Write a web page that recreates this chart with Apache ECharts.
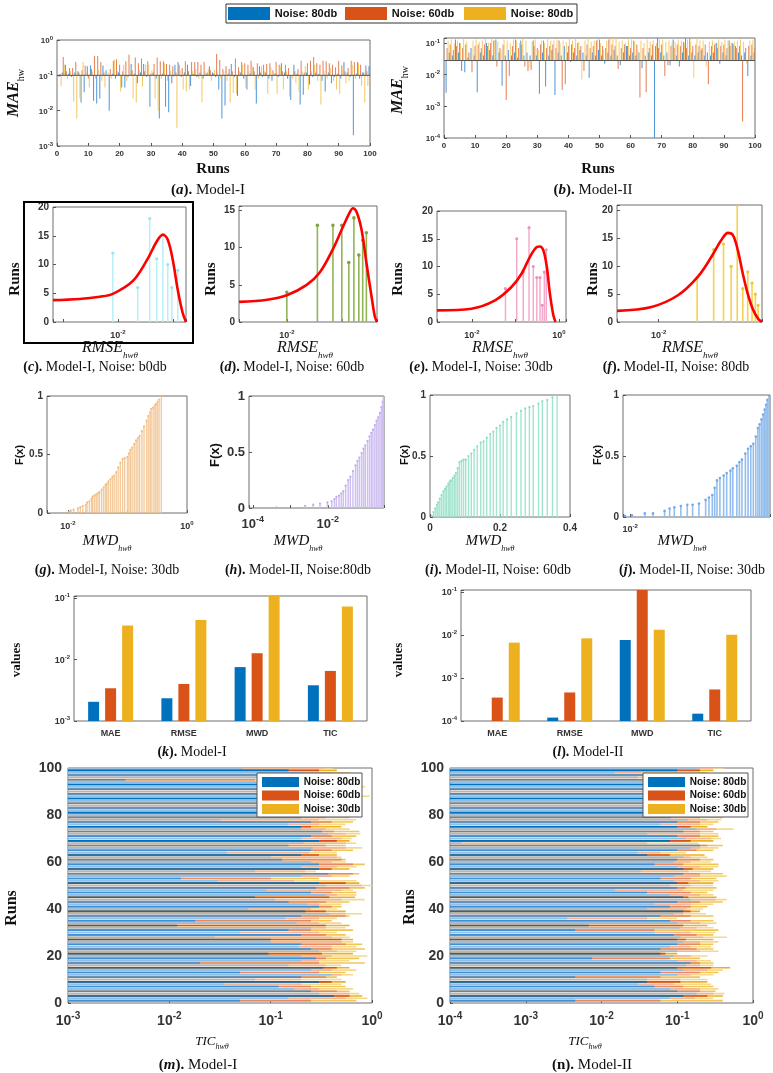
<!DOCTYPE html>
<html><head><meta charset="utf-8">
<script src="https://cdn.jsdelivr.net/npm/echarts@6/dist/echarts.min.js"></script>
<style>html,body{margin:0;padding:0;background:#fff}#c{width:773px;height:1073px}</style>
</head><body><div id="c"></div><script>
// ---------------- DATA ----------------
const legendTop = ['Noise: 80db', 'Noise: 60db', 'Noise: 80db'];
const legendBottom = ['Noise: 80db', 'Noise: 60db', 'Noise: 30db'];
const metrics = ['MAE', 'RMSE', 'MWD', 'TIC'];

// (a) Model-I MAE per run
const maeI_80 = [0.09,0.12,0.2,0.11,0.09,0.12,0.13,0.017,0.033,0.18,0.19,0.019,0.016,0.022,0.19,0.14,0.01,0.11,0.08,0.12,0.045,0.045,0.09,0.21,0.11,0.06,0.12,0.21,0.09,0.013,0.12,0.08,0.006,0.11,0.013,0.009,0.06,0.2,0.24,0.09,0.12,0.2,0.05,0.11,0.09,0.12,0.08,0.11,0.18,0.12,0.09,0.04,0.006,0.014,0.11,0.21,0.09,0.026,0.12,0.08,0.04,0.11,0.17,0.016,0.18,0.09,0.12,0.08,0.07,0.11,0.09,0.22,0.12,0.08,0.02,0.2,0.11,0.015,0.028,0.12,0.055,0.09,0.12,0.11,0.07,0.035,0.12,0.06,0.09,0.11,0.08,0.24,0.12,0.09,0.002,0.11,0.08,0.12,0.19,0.18];
const maeI_60 = [0.11,0.33,0.13,0.16,0.16,0.24,0.12,0.14,0.19,0.08,0.15,0.35,0.35,0.24,0.12,0.1,0.15,0.26,0.28,0.2,0.13,0.25,0.38,0.14,0.32,0.22,0.3,0.13,0.25,0.11,0.21,0.32,0.25,0.25,0.21,0.2,0.18,0.12,0.2,0.16,0.25,0.13,0.24,0.24,0.24,0.2,0.24,0.12,0.14,0.11,0.4,0.27,0.15,0.18,0.15,0.13,0.3,0.17,0.24,0.22,0.2,0.26,0.13,0.22,0.12,0.2,0.21,0.22,0.14,0.24,0.2,0.13,0.2,0.16,0.1,0.13,0.15,0.26,0.12,0.22,0.26,0.33,0.22,0.2,0.26,0.25,0.22,0.2,0.17,0.26,0.19,0.13,0.16,0.26,0.24,0.24,0.2,0.12,0.13,0.11];
const maeI_30 = [0.05,0.2,0.08,0.13,0.018,0.006,0.022,0.24,0.12,0.045,0.13,0.08,0.14,0.07,0.045,0.12,0.08,0.28,0.13,0.035,0.2,0.07,0.13,0.022,0.017,0.14,0.048,0.2,0.2,0.14,0.022,0.01,0.08,0.22,0.07,0.13,0.09,0.0033,0.14,0.04,0.035,0.04,0.13,0.15,0.08,0.017,0.13,0.15,0.07,0.14,0.12,0.08,0.13,0.07,0.017,0.032,0.03,0.13,0.2,0.045,0.13,0.18,0.04,0.08,0.18,0.13,0.03,0.17,0.12,0.03,0.18,0.04,0.13,0.025,0.08,0.06,0.035,0.13,0.18,0.04,0.13,0.2,0.07,0.015,0.13,0.08,0.16,0.07,0.04,0.03,0.14,0.06,0.07,0.2,0.08,0.22,0.05,0.017,0.05,0.04];
const baseI = 0.1;

// (b) Model-II MAE per run
const maeII_80 = [0.0027,0.05,0.04,0.13,0.05,0.013,0.012,0.035,0.07,0.04,0.0028,0.05,0.04,0.1,0.06,0.04,0.13,0.05,0.0045,0.04,0.06,0.04,0.05,0.035,0.12,0.04,0.05,0.04,0.12,0.04,0.0025,0.05,0.0042,0.04,0.06,0.0023,0.05,0.04,0.08,0.05,0.025,0.05,0.04,0.06,0.05,0.04,0.008,0.05,0.04,0.06,0.04,0.022,0.05,0.04,0.06,0.04,0.02,0.05,0.08,0.04,0.05,0.04,0.05,0.016,0.04,0.05,0.04,0.00008,0.15,0.05,0.04,0.05,0.02,0.13,0.04,0.018,0.05,0.14,0.04,0.05,0.04,0.05,0.06,0.04,0.05,0.04,0.05,0.1,0.022,0.05,0.04,0.12,0.1,0.08,0.05,0.04,0.05,0.009,0.04,0.05];
const maeII_60 = [0.07,0.09,0.06,0.08,0.1,0.07,0.09,0.05,0.012,0.08,0.09,0.07,0.09,0.08,0.1,0.12,0.018,0.07,0.09,0.0016,0.009,0.08,0.13,0.07,0.09,0.018,0.013,0.014,0.08,0.07,0.09,0.12,0.07,0.08,0.09,0.07,0.12,0.0033,0.005,0.08,0.09,0.07,0.1,0.08,0.013,0.09,0.07,0.08,0.12,0.13,0.08,0.07,0.13,0.09,0.08,0.015,0.07,0.09,0.08,0.07,0.12,0.09,0.0019,0.07,0.0028,0.07,0.09,0.08,0.07,0.09,0.009,0.02,0.08,0.07,0.09,0.08,0.11,0.07,0.14,0.08,0.09,0.08,0.07,0.09,0.005,0.08,0.09,0.07,0.08,0.09,0.07,0.08,0.09,0.07,0.08,0.00033,0.07,0.08,0.09,0.07];
const maeII_30 = [0.12,0.13,0.1,0.12,0.1,0.14,0.11,0.04,0.12,0.13,0.11,0.12,0.14,0.1,0.15,0.12,0.11,0.06,0.13,0.12,0.1,0.13,0.12,0.1,0.14,0.12,0.016,0.11,0.13,0.06,0.12,0.1,0.14,0.12,0.12,0.13,0.1,0.12,0.11,0.14,0.12,0.15,0.11,0.007,0.12,0.15,0.11,0.12,0.13,0.1,0.06,0.12,0.14,0.15,0.15,0.11,0.12,0.1,0.13,0.15,0.11,0.06,0.12,0.1,0.13,0.11,0.12,0.1,0.13,0.13,0.11,0.12,0.1,0.11,0.13,0.12,0.1,0.13,0.11,0.008,0.15,0.12,0.12,0.018,0.11,0.12,0.1,0.13,0.11,0.13,0.12,0.1,0.11,0.12,0.13,0.11,0.022,0.12,0.13,0.07];
const baseII = 0.028;

// (c)-(f) RMSE histograms (bin centre, runs) and fitted curves
const rmseC_x = [0.0081,0.023,0.038,0.051,0.066,0.081,0.096,0.123];
const rmseC_n = [12,6,18,11,15,10,6,9];
const fitC_x = [6.6e-4,2.0e-3,4.7e-3,8.1e-3,0.0186,0.034,0.051,0.066,0.081,0.1,0.123,0.151,0.174];
const fitC_y = [3.8,4.0,4.4,4.9,7.1,10.8,14,15.2,14.3,10.8,5.6,1.6,0];
const rmseD_x = [0.01,0.036,0.069,0.1,0.134,0.166,0.204,0.24,0.28];
const rmseD_n = [4,13,13,13,8,14,9,11,12];
const fitD_x = [1.35e-3,4.4e-3,0.01,0.023,0.04,0.069,0.105,0.141,0.158,0.186,0.229,0.28,0.35,0.4,0.437];
const fitD_y = [2.7,3.0,3.6,5.0,6.7,9.8,12.8,14.8,15.3,14.8,12.4,8,3.3,0.7,0];
const rmseE_x = [0.059,0.107,0.151,0.205,0.257,0.309,0.366,0.414,0.46,0.51];
const rmseE_n = [6,15,9,17,10,8,8,3,9,13];
const fitE_x = [1.585e-3,9.8e-3,0.034,0.081,0.138,0.214,0.309,0.363,0.437,0.525,0.617,0.741,0.83];
const fitE_y = [2.1,2.4,3.9,6.3,8.7,11.7,13.5,13.6,12.9,9.9,5.1,1.2,0];
const rmseF_x = [0.05,0.1,0.151,0.208,0.269,0.339,0.417,0.5,0.575,0.645];
const rmseF_n = [8,13,14,10,21,6,9,7,5,3];
const fitF_x = [1.74e-3,7.4e-3,0.0224,0.0513,0.0912,0.138,0.182,0.224,0.275,0.339,0.417,0.513,0.645,0.759];
const fitF_y = [2.0,2.7,4.8,8.1,11.7,14.7,16.0,15.6,12.9,8.7,5.1,2.4,0.6,0];

// (g)-(j) empirical CDF of MWD
const cdfG_x = [0.0105,0.0112,0.0125,0.0148,0.0162,0.0178,0.02,0.021,0.023,0.025,0.026,0.028,0.03,0.032,0.034,0.037,0.04,0.043,0.045,0.048,0.052,0.056,0.06,0.065,0.07,0.076,0.083,0.09,0.1,0.106,0.112,0.12,0.13,0.14,0.15,0.16,0.175,0.19,0.21,0.225,0.24,0.25,0.27,0.29,0.3,0.32,0.34,0.37];
const cdfG_F = [0.01,0.02,0.03,0.04,0.05,0.06,0.07,0.09,0.1,0.12,0.14,0.15,0.16,0.17,0.18,0.2,0.22,0.24,0.25,0.27,0.29,0.31,0.32,0.35,0.39,0.43,0.46,0.47,0.48,0.51,0.54,0.56,0.59,0.62,0.64,0.66,0.7,0.74,0.79,0.83,0.86,0.89,0.9,0.92,0.93,0.95,0.97,1.0];
const cdfH_x = [0.00043,0.0025,0.0041,0.0062,0.0098,0.0127,0.015,0.017,0.02,0.023,0.026,0.03,0.035,0.04,0.047,0.055,0.062,0.07,0.08,0.09,0.1,0.115,0.13,0.145,0.16,0.18,0.2,0.22,0.245,0.27,0.29,0.305];
const cdfH_F = [0.005,0.02,0.03,0.04,0.05,0.06,0.08,0.1,0.11,0.13,0.15,0.2,0.25,0.28,0.33,0.38,0.42,0.45,0.49,0.53,0.56,0.6,0.64,0.67,0.7,0.74,0.78,0.81,0.85,0.9,0.95,1.0];
const cdfI_x = [0.005,0.01,0.015,0.02,0.023,0.028,0.033,0.038,0.043,0.047,0.052,0.056,0.06,0.065,0.07,0.074,0.079,0.084,0.09,0.096,0.102,0.11,0.118,0.126,0.135,0.145,0.153,0.162,0.172,0.181,0.19,0.2,0.209,0.22,0.232,0.247,0.26,0.272,0.284,0.295,0.31,0.321,0.335,0.35,0.363];
const cdfI_F = [0.01,0.04,0.07,0.1,0.12,0.15,0.18,0.21,0.23,0.25,0.27,0.29,0.3,0.32,0.34,0.36,0.4,0.45,0.46,0.47,0.47,0.5,0.52,0.55,0.58,0.61,0.62,0.65,0.68,0.7,0.73,0.75,0.78,0.8,0.82,0.85,0.87,0.89,0.9,0.91,0.93,0.95,0.96,0.98,1.0];
const cdfJ_x = [0.0092,0.0103,0.0127,0.0145,0.0175,0.019,0.0205,0.0228,0.0253,0.0276,0.0306,0.0341,0.036,0.038,0.0395,0.041,0.043,0.0457,0.048,0.051,0.053,0.0566,0.059,0.0615,0.065,0.0679,0.071,0.074,0.077,0.0797,0.082,0.0845,0.0867,0.089,0.091,0.093,0.0954];
const cdfJ_F = [0.01,0.014,0.03,0.03,0.05,0.07,0.08,0.09,0.1,0.1,0.11,0.14,0.16,0.18,0.24,0.3,0.32,0.34,0.36,0.38,0.4,0.42,0.45,0.47,0.52,0.56,0.58,0.6,0.66,0.73,0.76,0.8,0.84,0.88,0.92,0.96,1.0];

// (k),(l) mean metrics
const statI_80 = [0.00205,0.00234,0.0075,0.0038];
const statI_60 = [0.0034,0.004,0.0126,0.0065];
const statI_30 = [0.0355,0.0437,0.15,0.072];
const statII_80 = [null,0.00012,0.0076,0.000148];
const statII_60 = [0.00035,0.00046,0.2,0.00054];
const statII_30 = [0.0066,0.0083,0.0132,0.01];

// (m),(n) TIC per run (cumulative bar ends as drawn)
const ticI_80 = [0.05,0.15,0.42,0.3,0.25,0.17,0.12,0.035,0.3,0.07,0.2,0.4,0.05,0.25,0.33,0.15,0.02,0.2,0.28,0.2,0.095,0.3,0.25,0.19,0.2,0.1,0.1,0.028,0.2,0.05,0.15,0.25,0.012,0.18,0.018,0.14,0.2,0.38,0.22,0.06,0.3,0.23,0.15,0.11,0.07,0.35,0.25,0.09,0.28,0.35,0.3,0.03,0.013,0.2,0.37,0.07,0.3,0.2,0.3,0.25,0.13,0.1,0.2,0.037,0.25,0.26,0.15,0.21,0.3,0.2,0.25,0.37,0.32,0.2,0.2,0.15,0.25,0.032,0.2,0.25,0.2,0.15,0.25,0.3,0.12,0.2,0.28,0.15,0.2,0.25,0.18,0.3,0.2,0.25,0.0037,0.2,0.075,0.22,0.15,0.052];
const ticI_60 = [0.25,0.55,0.6,0.6,0.45,0.3,0.25,0.2,0.4,0.2,0.35,0.5,0.3,0.4,0.45,0.35,0.3,0.3,0.35,0.4,0.32,0.45,0.4,0.4,0.55,0.5,0.5,0.4,0.35,0.3,0.25,0.35,0.35,0.3,0.25,0.3,0.55,0.55,0.35,0.25,0.4,0.3,0.35,0.5,0.38,0.45,0.4,0.5,0.6,0.8,0.55,0.17,0.1,0.4,0.65,0.22,0.4,0.45,0.65,0.4,0.5,0.45,0.3,0.24,0.4,0.55,0.35,0.55,0.45,0.5,0.4,0.55,0.42,0.35,0.25,0.3,0.4,0.3,0.35,0.4,0.35,0.3,0.4,0.45,0.3,0.4,0.45,0.3,0.35,0.4,0.3,0.5,0.35,0.4,0.07,0.3,0.25,0.4,0.3,0.34];
const ticI_30 = [0.7,0.9,0.8,0.75,0.6,0.65,0.55,0.5,0.55,0.5,0.45,0.65,0.55,0.7,0.6,0.5,0.85,0.6,0.75,0.9,0.65,0.7,0.85,0.7,0.8,0.65,0.65,0.6,0.55,0.45,0.65,0.55,0.6,0.5,0.4,0.45,0.6,0.8,0.55,0.45,0.5,0.5,0.6,0.85,0.68,0.7,0.7,0.65,0.85,1.0,0.75,0.7,0.3,0.6,0.75,0.28,0.6,0.7,0.85,0.55,0.55,0.5,0.45,0.45,0.65,0.8,0.55,0.7,0.6,0.63,0.7,0.77,0.75,0.6,0.5,0.55,0.65,0.7,0.6,0.55,0.6,0.5,0.65,0.7,0.55,0.6,0.75,0.95,0.6,0.65,0.55,0.85,0.6,0.65,0.3,0.5,0.45,0.6,0.45,0.41];
const ticII_80 = [0.0045,0.08,0.12,0.18,0.1,0.08,0.05,0.03,0.04,0.04,0.0045,0.1,0.06,0.12,0.1,0.13,0.15,0.1,0.0075,0.09,0.06,0.1,0.06,0.08,0.1,0.12,0.1,0.11,0.09,0.05,0.0045,0.11,0.0068,0.1,0.08,0.0035,0.06,0.09,0.12,0.04,0.08,0.05,0.1,0.15,0.12,0.08,0.04,0.015,0.1,0.08,0.1,0.09,0.06,0.09,0.12,0.033,0.12,0.1,0.05,0.09,0.1,0.12,0.04,0.03,0.1,0.15,0.2,0.00014,0.08,0.13,0.1,0.04,0.12,0.18,0.1,0.06,0.1,0.14,0.083,0.1,0.08,0.12,0.1,0.06,0.1,0.12,0.08,0.1,0.09,0.11,0.07,0.1,0.12,0.08,0.1,0.03,0.1,0.015,0.1,0.19];
const ticII_60 = [0.06,0.17,0.25,0.3,0.2,0.2,0.12,0.09,0.11,0.11,0.06,0.15,0.2,0.25,0.28,0.2,0.2,0.18,0.08,0.15,0.07,0.2,0.18,0.15,0.2,0.2,0.13,0.22,0.18,0.15,0.05,0.18,0.12,0.2,0.15,0.04,0.15,0.12,0.15,0.13,0.15,0.15,0.2,0.32,0.14,0.2,0.15,0.12,0.13,0.15,0.14,0.2,0.15,0.2,0.2,0.14,0.16,0.2,0.12,0.15,0.2,0.15,0.08,0.06,0.18,0.2,0.25,0.04,0.15,0.28,0.2,0.2,0.2,0.33,0.15,0.2,0.2,0.25,0.2,0.2,0.15,0.2,0.18,0.15,0.2,0.22,0.15,0.2,0.18,0.2,0.15,0.2,0.22,0.18,0.2,0.1,0.2,0.034,0.2,0.3];
const ticII_30 = [0.4,0.3,0.4,0.42,0.32,0.35,0.3,0.28,0.25,0.25,0.2,0.3,0.35,0.4,0.5,0.3,0.3,0.28,0.2,0.25,0.1,0.35,0.3,0.28,0.3,0.35,0.3,0.45,0.3,0.32,0.35,0.3,0.25,0.33,0.3,0.1,0.3,0.24,0.2,0.22,0.25,0.3,0.4,0.45,0.33,0.3,0.25,0.3,0.33,0.3,0.3,0.35,0.33,0.45,0.4,0.28,0.3,0.35,0.35,0.28,0.3,0.25,0.23,0.13,0.3,0.35,0.4,0.19,0.3,0.38,0.35,0.35,0.3,0.55,0.25,0.3,0.35,0.38,0.4,0.35,0.3,0.35,0.3,0.28,0.35,0.4,0.3,0.35,0.3,0.38,0.3,0.35,0.38,0.3,0.35,0.3,0.35,0.25,0.3,0.42];

// ---------------- STYLE / HELPERS ----------------
const SERIF = '"Liberation Serif","Times New Roman",serif';
const SANS = '"Liberation Sans",Arial,Helvetica,sans-serif';
const TC = '#333';
const C1 = '#0072BD', C2 = '#D95319', C3 = '#EDB120';
const grids = [], xAxes = [], yAxes = [], series = [], graphics = [];

function supRich(fs) {
  const s = Math.round(fs * 0.72);
  return {
    b: {fontSize: fs, fontWeight: 'bold', fontFamily: SANS, color: TC, verticalAlign: 'bottom'},
    s: {fontSize: s, fontWeight: 'bold', fontFamily: SANS, color: TC, verticalAlign: 'bottom', padding: [0, 0, Math.round(fs * 0.5), 0]}
  };
}
function logFmt(exps) {
  return function (v) {
    const e = Math.log10(v), r = Math.round(e);
    if (Math.abs(e - r) > 1e-6) return '';
    if (exps && exps.indexOf(r) < 0) return '';
    return '{b|10}{s|' + r + '}';
  };
}
function stepFmt(step) {
  return function (v) {
    const k = v / step;
    if (Math.abs(k - Math.round(k)) > 1e-6) return '';
    return String(+v.toFixed(3));
  };
}
function mkAxis(type, o) {
  const fs = o.fs || 9;
  const ax = {
    type: type, splitLine: {show: false}, axisLine: {show: false},
    axisTick: {show: o.tick !== false, inside: true, length: o.tl || 3, lineStyle: {color: '#555', width: 1}},
    axisLabel: {show: true, color: TC, fontSize: fs, fontWeight: 'bold', fontFamily: SANS,
      margin: o.margin == null ? 4 : o.margin, hideOverlap: false, showMinLabel: true, showMaxLabel: true}
  };
  if (o.min != null) ax.min = o.min;
  if (o.max != null) ax.max = o.max;
  if (o.interval != null) ax.interval = o.interval;
  if (type === 'log') {
    ax.logBase = 10;
    ax.axisLabel.formatter = logFmt(o.exps);
    ax.axisLabel.rich = supRich(fs);
  } else if (o.step) {
    ax.axisLabel.formatter = stepFmt(o.step);
  }
  if (o.data) { ax.data = o.data; ax.boundaryGap = true; }
  return ax;
}
function addPanel(r, xa, ya) {
  const i = grids.length;
  grids.push({left: r[0], top: r[2], width: r[1] - r[0], height: r[3] - r[2], show: true,
    borderColor: '#6e6e6e', borderWidth: 1, backgroundColor: '#fff', containLabel: false});
  xa.gridIndex = i; ya.gridIndex = i;
  xAxes.push(xa); yAxes.push(ya);
  return i;
}
// vertical thin bars from a baseline (a),(b)
function vbar(gi, vals, base, off, w, color, op) {
  return {type: 'custom', xAxisIndex: gi, yAxisIndex: gi, clip: true,
    data: vals.map((v, i) => [i + 1, v]),
    renderItem: function (p, api) {
      const x = api.value(0), v = api.value(1);
      if (!(v > 0)) return null;
      const a = api.coord([x, v]), b = api.coord([x, base]);
      return {type: 'rect', shape: {x: a[0] + off - w / 2, y: Math.min(a[1], b[1]), width: w, height: Math.abs(a[1] - b[1])},
        style: {fill: color, opacity: op}};
    }};
}
function hline(gi, x0, x1, y, color) {
  return {type: 'line', xAxisIndex: gi, yAxisIndex: gi, data: [[x0, y], [x1, y]], symbol: 'none',
    lineStyle: {color: color, width: 1}, silent: true, z: 5};
}
// stems (stem plots / histograms)
function stems(gi, xs, ys, color, mcolor, r, w, op) {
  return {type: 'custom', xAxisIndex: gi, yAxisIndex: gi, clip: true,
    data: xs.map((x, i) => [x, ys[i]]),
    renderItem: function (p, api) {
      const a = api.coord([api.value(0), api.value(1)]), b = api.coord([api.value(0), 0]);
      return {type: 'group', children: [
        {type: 'line', shape: {x1: a[0], y1: b[1], x2: a[0], y2: a[1]}, style: {stroke: color, lineWidth: w, opacity: op}},
        {type: 'circle', shape: {cx: a[0], cy: a[1], r: r}, style: {fill: mcolor, opacity: op}}
      ]};
    }};
}
function fitLine(gi, xs, ys) {
  return {type: 'line', xAxisIndex: gi, yAxisIndex: gi, smooth: 0.35, symbol: 'none',
    data: xs.map((x, i) => [x, ys[i]]), lineStyle: {color: '#ff0000', width: 2.6}, z: 6};
}
// grouped bars on category axis (k),(l)
function catBars(gi, vals, base, off, w, color) {
  return {type: 'custom', xAxisIndex: gi, yAxisIndex: gi, clip: true,
    data: vals.map((v, i) => [i, v]),
    renderItem: function (p, api) {
      const v = api.value(1);
      if (!(v > 0)) return null;
      const a = api.coord([api.value(0), v]), b = api.coord([api.value(0), base]);
      return {type: 'rect', shape: {x: a[0] + off - w / 2, y: a[1], width: w, height: b[1] - a[1]}, style: {fill: color}};
    }};
}
// horizontal bars (m),(n)
function hbars(gi, ends, base, dark, mid, light, h) {
  return {type: 'custom', xAxisIndex: gi, yAxisIndex: gi, clip: true,
    data: ends.map((v, i) => [v, i + 1]),
    renderItem: function (p, api) {
      const v = api.value(0), r = api.value(1);
      const a = api.coord([v, r]), b = api.coord([base, r]);
      const k = p.dataIndex;
      const col = (k % 6 === 2) ? dark : ((k % 2 === 0) ? mid : light);
      return {type: 'rect', shape: {x: b[0], y: a[1] - h / 2, width: a[0] - b[0], height: h}, style: {fill: col}};
    }};
}
function txt(x, y, text, rich, rot, z) {
  graphics.push({type: 'text', x: x, y: y, rotation: rot ? Math.PI / 2 : 0, z: z || 50,
    style: {text: text, rich: rich, align: 'center', verticalAlign: 'middle'}});
}
function capRich(fs) {
  return {
    p: {fontFamily: SERIF, fontWeight: 'bold', fontSize: fs, fill: '#111'},
    i: {fontFamily: SERIF, fontWeight: 'bold', fontStyle: 'italic', fontSize: fs, fill: '#111'},
    n: {fontFamily: SERIF, fontSize: fs, fill: '#111'}
  };
}
function cap(x, y, letter, rest, fs, italic) {
  txt(x, y, '{p|(}{' + (italic === false ? 'p' : 'i') + '|' + letter + '}{p|).}{n| ' + rest + '}', capRich(fs));
}
function subRich(fs, sfs, bold, subItalic) {
  return {
    a: {fontFamily: SERIF, fontStyle: 'italic', fontWeight: bold ? 'bold' : 'normal', fontSize: fs, fill: '#111', verticalAlign: 'bottom', padding: [0, 0, Math.round(fs * 0.25), 0]},
    s: {fontFamily: SERIF, fontStyle: subItalic ? 'italic' : 'normal', fontSize: sfs, fill: '#111', verticalAlign: 'bottom'}
  };
}
function plainRich(fs, fam, bold) {
  return {a: {fontFamily: fam, fontWeight: bold ? 'bold' : 'normal', fontSize: fs, fill: '#111'}};
}
function rect(x, y, w, h, fill, stroke, lw, z) {
  graphics.push({type: 'rect', z: z || 40, shape: {x: x, y: y, width: w, height: h},
    style: {fill: fill || 'none', stroke: stroke || null, lineWidth: lw || 0}});
}

// ---------------- PANELS ----------------
let g;
// (a)
g = addPanel([57, 370, 40, 146], mkAxis('value', {min: 0, max: 100, interval: 10, fs: 8, step: 10}), mkAxis('log', {min: 1e-3, max: 1, fs: 8}));
series.push(vbar(g, maeI_80, baseI, -1, 1, '#3a8ad0', 0.9));
series.push(vbar(g, maeI_60, baseI, 0, 1, '#e07040', 0.9));
series.push(vbar(g, maeI_30, baseI, 1, 1, '#f2c14f', 0.9));
series.push(hline(g, 0, 100, baseI, '#555'));
// (b)
g = addPanel([444, 755, 38, 138], mkAxis('value', {min: 0, max: 100, interval: 10, fs: 8, step: 10}), mkAxis('log', {min: 1e-4, max: 0.144, fs: 8}));
series.push(vbar(g, maeII_80, baseII, -1, 1, '#3a8ad0', 0.9));
series.push(vbar(g, maeII_60, baseII, 0, 1, '#e07040', 0.9));
series.push(vbar(g, maeII_30, baseII, 1, 1, '#f4c85e', 0.9));
series.push(hline(g, 0, 100, baseII, '#555'));

// (c)
g = addPanel([53, 186, 207, 322], mkAxis('log', {min: 6.6e-4, max: 0.174, exps: [-2], fs: 9, margin: 7}), mkAxis('value', {min: 0, max: 20, interval: 5, fs: 10, step: 5}));
series.push(stems(g, rmseC_x, rmseC_n, '#b5f1f6', '#96e6ee', 1.6, 1.5, 1));
series.push(fitLine(g, fitC_x, fitC_y));
// (d)
g = addPanel([239, 377, 206, 322], mkAxis('log', {min: 1.35e-3, max: 0.437, exps: [-2], fs: 9, margin: 7}), mkAxis('value', {min: 0, max: 15.6, interval: 5, fs: 10, step: 5}));
series.push(stems(g, rmseD_x, rmseD_n, '#92b457', '#7ea544', 1.8, 1.6, 1));
series.push(fitLine(g, fitD_x, fitD_y));
// (e)
g = addPanel([437, 566, 211, 322], mkAxis('log', {min: 1.585e-3, max: 1.445, exps: [-2, 0], fs: 9, margin: 7}), mkAxis('value', {min: 0, max: 20, interval: 5, fs: 10, step: 5}));
series.push(stems(g, rmseE_x, rmseE_n, '#f6aacb', '#ef90bb', 1.6, 1.5, 1));
series.push(fitLine(g, fitE_x, fitE_y));
// (f)
g = addPanel([617, 762, 205, 322], mkAxis('log', {min: 1.74e-3, max: 0.759, exps: [-2], fs: 9, margin: 7}), mkAxis('value', {min: 0, max: 21, interval: 5, fs: 10, step: 5}));
series.push(stems(g, rmseF_x, rmseF_n, '#f5d24e', '#efc532', 1.6, 1.6, 1));
series.push(fitLine(g, fitF_x, fitF_y));

// (g)
g = addPanel([47, 187, 396, 513], mkAxis('log', {min: 0.00447, max: 1, exps: [-2, 0], fs: 9, margin: 7}), mkAxis('value', {min: 0, max: 1, interval: 0.5, fs: 10, step: 0.5}));
series.push(stems(g, cdfG_x, cdfG_F, '#f3c592', '#f0b877', 1.1, 1.4, 0.9));
// (h)
g = addPanel([249, 384, 396, 508], mkAxis('log', {min: 7.94e-5, max: 0.316, exps: [-4, -2], fs: 13, margin: 7}), mkAxis('value', {min: 0, max: 1, interval: 0.5, fs: 13, step: 0.5}));
series.push(stems(g, cdfH_x, cdfH_F, '#cdbdf1', '#bba6ec', 1.1, 1.5, 0.95));
// (i)
g = addPanel([430, 570, 395, 517], mkAxis('value', {min: 0, max: 0.4, interval: 0.2, fs: 10, step: 0.2, margin: 6}), mkAxis('value', {min: 0, max: 1, interval: 0.5, fs: 10, step: 0.5}));
series.push(stems(g, cdfI_x, cdfI_F, '#9ee3cc', '#86dbbf', 1.1, 1.4, 0.95));
// (j)
g = addPanel([623, 770, 395, 517], mkAxis('log', {min: 0.00891, max: 0.097, exps: [-2], fs: 9, margin: 6}), mkAxis('value', {min: 0, max: 1, interval: 0.5, fs: 10, step: 0.5}));
series.push(stems(g, cdfJ_x, cdfJ_F, '#8ebaec', '#6fa6e6', 1.3, 1.6, 0.95));

// (k)
g = addPanel([74, 367, 596, 721], mkAxis('category', {data: metrics, fs: 9, tick: false, margin: 8}), mkAxis('log', {min: 1e-3, max: 0.107, fs: 9}));
series.push(catBars(g, statI_80, 1e-3, -17, 11, C1));
series.push(catBars(g, statI_60, 1e-3, 0, 11, C2));
series.push(catBars(g, statI_30, 1e-3, 17, 11, C3));
// (l)
g = addPanel([461, 751, 590, 721], mkAxis('category', {data: metrics, fs: 9, tick: false, margin: 8}), mkAxis('log', {min: 1e-4, max: 0.11, fs: 9}));
series.push(catBars(g, statII_80, 1e-4, -17, 11, C1));
series.push(catBars(g, statII_60, 1e-4, 0, 11, C2));
series.push(catBars(g, statII_30, 1e-4, 17, 11, C3));

// (m)
g = addPanel([68, 372, 768, 1003], mkAxis('log', {min: 1e-3, max: 1, fs: 14, margin: 8}), mkAxis('value', {min: 0, max: 100, interval: 20, fs: 14, step: 20, margin: 6}));
series.push(hbars(g, ticI_30, 1e-3, C3, '#f1c457', '#f6d88c', 1.6));
series.push(hbars(g, ticI_60, 1e-3, C2, '#e68a64', '#f1b59b', 1.6));
series.push(hbars(g, ticI_80, 1e-3, C1, '#3f8fd2', '#8dbfe9', 1.6));
// (n)
g = addPanel([450, 753, 768, 1003], mkAxis('log', {min: 1e-4, max: 1, fs: 14, margin: 8}), mkAxis('value', {min: 0, max: 100, interval: 20, fs: 14, step: 20, margin: 6}));
series.push(hbars(g, ticII_30, 1e-4, C3, '#f1c457', '#f6d88c', 1.6));
series.push(hbars(g, ticII_60, 1e-4, C2, '#e68a64', '#f1b59b', 1.6));
series.push(hbars(g, ticII_80, 1e-4, C1, '#3f8fd2', '#8dbfe9', 1.6));

// ---------------- TEXT / LEGENDS ----------------
// top legend
rect(226, 4, 351, 19, '#fff', '#333', 1);
[[228, C1], [345, C2], [464, C3]].forEach(function (s, k) {
  rect(s[0], 7, 42, 13, s[1], null, 0, 41);
  txt(s[0] + 47 + 31, 13.5, '{a|' + legendTop[k] + '}', plainRich(11, SANS, true), false, 42);
});
// (m),(n) legends
[[257, 262], [643, 648]].forEach(function (L) {
  rect(L[0], 773, 105, 44, '#fff', '#555', 1, 60);
  [C1, C2, C3].forEach(function (c, k) {
    rect(L[1], 777 + k * 13.5, 37, 10, c, null, 0, 61);
    txt(L[1] + 41 + 29, 782 + k * 13.5, '{a|' + legendBottom[k] + '}', plainRich(10, SANS, true), false, 62);
  });
});
// box around (c)
rect(24, 202, 169, 141, 'none', '#000', 2, 45);

// row 1 titles
txt(16, 93, '{a|MAE}{s|hw}', subRich(16, 10, true, false), true);
txt(400, 90, '{a|MAE}{s|hw}', subRich(16, 10, true, false), true);
txt(213, 169, '{a|Runs}', plainRich(15, SERIF, true));
txt(598, 169, '{a|Runs}', plainRich(15, SERIF, true));
cap(208, 190, 'a', 'Model-I', 15);
cap(593, 190, 'b', 'Model-II', 15);
// row 2
[15, 211, 398, 593].forEach(function (x) { txt(x, 279, '{a|Runs}', plainRich(15, SERIF, true), true); });
[110, 305, 500, 690].forEach(function (x) { txt(x, 350, '{a|RMSE}{s|hwθ}', subRich(16, 9, false, true)); });
cap(95, 367, 'c', 'Model-I, Noise: b0db', 14);
cap(292, 367, 'd', 'Model-I, Noise: 60db', 14);
cap(481, 367, 'e', 'Model-I, Noise: 30db', 14);
cap(676, 367, 'f', 'Model-II, Noise: 80db', 14);
// row 3
txt(20, 455, '{a|F(x)}', plainRich(11, SANS, true), true);
txt(215, 455, '{a|F(x)}', plainRich(13, SANS, true), true);
txt(405, 455, '{a|F(x)}', plainRich(11, SANS, true), true);
txt(598, 455, '{a|F(x)}', plainRich(11, SANS, true), true);
[107, 298, 490, 682].forEach(function (x) { txt(x, 543, '{a|MWD}{s|hwθ}', subRich(15, 8, false, true)); });
cap(107, 570, 'g', 'Model-I, Noise: 30db', 14);
cap(298, 570, 'h', 'Model-II, Noise:80db', 14);
cap(498, 570, 'i', 'Model-II, Noise: 60db', 14);
cap(692, 570, 'j', 'Model-II, Noise: 30db', 14);
// row 4
txt(17, 660, '{a|values}', plainRich(13, SERIF, true), true);
txt(399, 660, '{a|values}', plainRich(13, SERIF, true), true);
cap(192, 752, 'k', 'Model-I', 14);
cap(588, 752, 'l', 'Model-II', 14);
// row 5
txt(12, 908, '{a|Runs}', plainRich(16, SERIF, true), true);
txt(410, 907, '{a|Runs}', plainRich(16, SERIF, true), true);
txt(212, 1043, '{a|TIC}{s|hwθ}', subRich(13, 8, false, true));
txt(585, 1043, '{a|TIC}{s|hwθ}', subRich(13, 8, false, true));
cap(198, 1065, 'm', 'Model-I', 15);
cap(592, 1065, 'n', 'Model-II', 15, false);

const chart = echarts.init(document.getElementById('c'), null, {renderer: 'canvas', width: 773, height: 1073});
chart.setOption({
  animation: false,
  backgroundColor: '#fff',
  grid: grids, xAxis: xAxes, yAxis: yAxes, series: series,
  graphic: {elements: graphics}
});
</script></body></html>
